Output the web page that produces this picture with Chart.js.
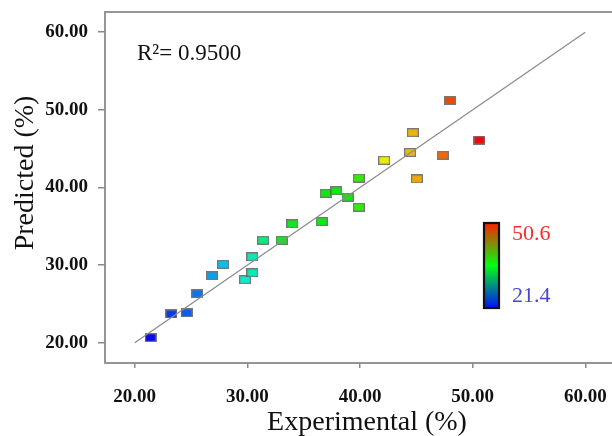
<!DOCTYPE html>
<html>
<head>
<meta charset="utf-8">
<script src="https://cdn.jsdelivr.net/npm/chart.js@4.4.0/dist/chart.umd.min.js"></script>
<style>
  html, body { margin: 0; padding: 0; background: #fff; overflow: hidden; }
</style>
</head>
<body>
<canvas id="parity" width="615" height="436"></canvas>
<script>
// experimental vs predicted yield (%)
const experimental = [21.4, 23.25, 24.6, 25.55, 26.85, 27.85, 29.8, 30.45, 30.45, 31.4, 33.05, 34.0, 36.6,
  36.95, 37.9, 38.9, 39.9, 39.9, 42.15, 44.7, 44.45, 45.05, 47.35, 48.0, 50.6];
const predicted = [20.65, 23.7, 23.85, 26.3, 28.6, 30.1, 28.1, 29.0, 31.05, 33.2, 33.2, 35.3, 35.6,
  39.25, 39.55, 38.75, 41.2, 37.45, 43.5, 47.05, 44.5, 41.1, 44.15, 51.2, 46.1];
const fitEnds = [20, 60];
const tickValues = [20, 30, 40, 50, 60];
const colorMin = 21.4;
const colorMax = 50.6;
const rSquared = 0.95;

const serif = '"Liberation Serif", "Times New Roman", serif';

// colour map (fraction of range -> hue), jet-like with a wide green band
const hueStops = [[0, 240], [0.14, 212], [0.22, 192], [0.31, 165], [0.40, 125], [0.62, 118],
  [0.71, 60], [0.79, 47], [0.89, 25], [0.92, 14], [1, 0]];

function hueFor(v) {
  const f = (v - colorMin) / (colorMax - colorMin);
  for (let i = 1; i < hueStops.length; i++) {
    const [f0, h0] = hueStops[i - 1], [f1, h1] = hueStops[i];
    if (f <= f1) return h0 + (h1 - h0) * (f - f0) / (f1 - f0);
  }
  return 0;
}

function marker(v) {
  const c = document.createElement('canvas');
  c.width = 12; c.height = 9;
  const g = c.getContext('2d');
  g.fillStyle = 'rgba(95,95,95,0.85)';
  g.fillRect(0, 0, 12, 9);
  g.fillStyle = 'hsl(' + hueFor(v) + ', 92%, 48%)';
  g.fillRect(1.2, 1.2, 9.6, 6.6);
  return c;
}

const decorations = {
  id: 'decorations',
  beforeDatasetsDraw(chart) {
    const { ctx, chartArea: a } = chart;
    ctx.save();
    ctx.strokeStyle = '#8a8a8a';
    ctx.lineWidth = 1.8;
    ctx.strokeRect(a.left, a.top, a.right - a.left, a.bottom - a.top);
    ctx.restore();
  },
  afterDraw(chart) {
    const { ctx } = chart;
    ctx.save();
    // R² label
    ctx.fillStyle = '#111';
    ctx.font = '23px ' + serif;
    ctx.textAlign = 'left';
    ctx.textBaseline = 'alphabetic';
    ctx.fillText('R²= ' + rSquared.toFixed(4), 137, 60);

    // axis titles
    ctx.font = '28px ' + serif;
    ctx.textAlign = 'center';
    ctx.fillText('Experimental (%)', 367, 430);
    ctx.save();
    ctx.translate(33, 173);
    ctx.rotate(-Math.PI / 2);
    ctx.fillText('Predicted (%)', 0, 0);
    ctx.restore();

    // colour bar
    const bx = 484, by = 223, bw = 15, bh = 85;
    const grad = ctx.createLinearGradient(0, by, 0, by + bh);
    grad.addColorStop(0, '#ff2000');
    grad.addColorStop(0.5, '#00ff10');
    grad.addColorStop(1, '#0010ff');
    ctx.fillStyle = grad;
    ctx.fillRect(bx, by, bw, bh);
    ctx.strokeStyle = '#111';
    ctx.lineWidth = 2.2;
    ctx.strokeRect(bx, by, bw, bh);

    ctx.font = '22px ' + serif;
    ctx.textAlign = 'left';
    ctx.textBaseline = 'middle';
    ctx.fillStyle = '#ff2a2a';
    ctx.fillText(colorMax.toFixed(1), 512, 234);
    ctx.fillStyle = '#4646d6';
    ctx.fillText(colorMin.toFixed(1), 512, 296);
    ctx.restore();
  }
};

const tickFont = { family: serif, weight: 'bold', size: 19 };

new Chart(document.getElementById('parity'), {
  data: {
    datasets: [{
      type: 'line',
      data: fitEnds.map(v => ({ x: v, y: v })),
      borderColor: '#8c8c8c',
      borderWidth: 1.3,
      pointRadius: 0
    }, {
      type: 'scatter',
      data: experimental.map((x, i) => ({ x: x, y: predicted[i] })),
      pointStyle: experimental.map(marker),
      pointRadius: 5
    }]
  },
  options: {
    responsive: false,
    animation: false,
    layout: { autoPadding: false, padding: { top: 12, right: 0, left: 0, bottom: 0 } },
    plugins: { legend: { display: false }, tooltip: { enabled: false } },
    scales: {
      x: {
        type: 'linear',
        min: 17.36,
        max: 62.64,
        afterFit: s => { s.height = 73; s.paddingLeft = 0; s.paddingRight = 0; },
        afterBuildTicks: s => { s.ticks = tickValues.map(v => ({ value: v })); },
        border: { display: false },
        grid: { drawOnChartArea: false, tickLength: 5, tickColor: '#8a8a8a', lineWidth: 1.5 },
        ticks: { font: tickFont, color: '#111', padding: 18, callback: v => v.toFixed(2) }
      },
      y: {
        type: 'linear',
        min: 17.38,
        max: 62.6,
        afterFit: s => { s.width = 105; s.paddingTop = 0; s.paddingBottom = 0; },
        afterBuildTicks: s => { s.ticks = tickValues.map(v => ({ value: v })); },
        border: { display: false },
        grid: { drawOnChartArea: false, tickLength: 7, tickColor: '#8a8a8a', lineWidth: 1.5 },
        ticks: { font: tickFont, color: '#111', padding: 10, callback: v => v.toFixed(2) }
      }
    }
  },
  plugins: [decorations]
});
</script>
</body>
</html>
